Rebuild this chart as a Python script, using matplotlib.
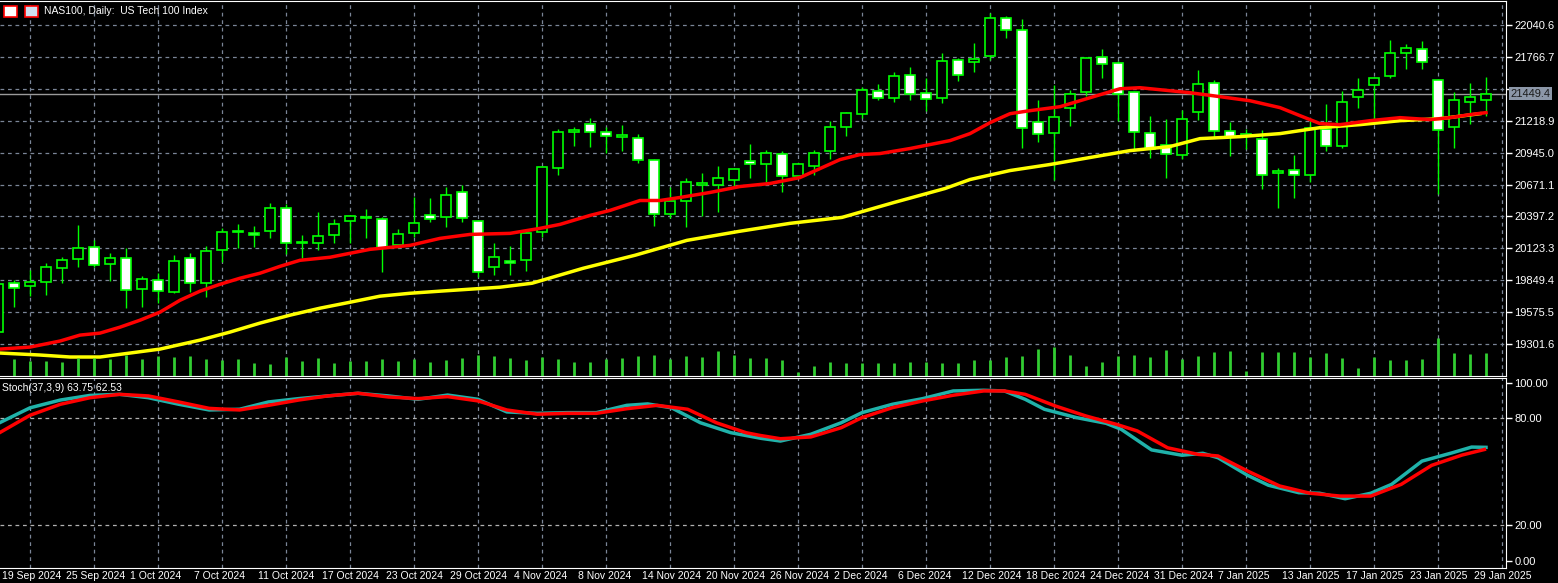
import matplotlib
matplotlib.use("Agg")
import matplotlib.pyplot as plt
import matplotlib.transforms as mtransforms
from matplotlib.patches import Rectangle

plt.rcParams['font.family'] = ['Liberation Sans', 'DejaVu Sans']

# bar index -1 is the partly hidden candle at the left edge (18 Sep)
bar_idx = list(range(-1, 93))
opens = [19405, 19824, 19798, 19833, 19952, 20029, 20132, 19987, 20038, 19773, 19850,
         19747, 20038, 19824, 20106, 20261, 20252, 20269, 20466, 20166, 20166, 20235,
         20355, 20380, 20372, 20149, 20252, 20406, 20389, 20611, 20355, 19961, 20012,
         20021, 20261, 20817, 21125, 21194, 21125, 21082, 21074, 20885, 20415, 20534,
         20671, 20663, 20714, 20877, 20843, 20937, 20748, 20834, 20962, 21168, 21279,
         21476, 21416, 21613, 21459, 21416, 21741, 21724, 21776, 22101, 21998, 21211,
         21117, 21331, 21467, 21767, 21716, 21467, 21117, 21014, 20928, 21296, 21545,
         21134, 21091, 21065, 20774, 20800, 20757, 21151, 21005, 21425, 21527, 21604,
         21801, 21836, 21570, 21168, 21382, 21399]
highs = [19850, 19850, 19935, 19995, 20047, 20320, 20192, 20081, 20124, 19884, 19910,
         20064, 20081, 20141, 20295, 20329, 20312, 20509, 20500, 20235, 20432, 20372,
         20406, 20457, 20389, 20286, 20560, 20552, 20646, 20663, 20363, 20166, 20141,
         20278, 20834, 21151, 21168, 21245, 21168, 21185, 21108, 20894, 20646, 20723,
         20774, 20834, 20815, 21022, 20971, 20962, 20860, 20971, 21219, 21295, 21510,
         21536, 21639, 21681, 21587, 21801, 21759, 21887, 22144, 22118, 22092, 21399,
         21527, 21485, 21765, 21836, 21730, 21476, 21262, 21236, 21313, 21656, 21570,
         21211, 21151, 21142, 20817, 20928, 21219, 21365, 21476, 21587, 21592, 21913,
         21878, 21904, 21575, 21467, 21545, 21596]
lows = [19370, 19619, 19713, 19721, 19824, 19961, 19961, 19841, 19610, 19619, 19653,
        19738, 19747, 19704, 20004, 20124, 20132, 20209, 20072, 20038, 20106, 20166,
        20166, 20209, 19918, 20124, 20218, 20346, 20303, 20346, 19875, 19892, 19892,
        19927, 20218, 20757, 21005, 20997, 20945, 20962, 20860, 20312, 20380, 20303,
        20397, 20432, 20646, 20723, 20689, 20611, 20731, 20757, 20894, 21091, 21245,
        21399, 21382, 21399, 21305, 21373, 21562, 21639, 21741, 21930, 20988, 21039,
        20706, 21176, 21433, 21587, 21219, 20962, 20903, 20723, 20894, 21228, 21074,
        20920, 20980, 20637, 20466, 20552, 20689, 20962, 20988, 21331, 21219, 21587,
        21664, 21664, 20594, 20988, 21194, 21262]
closes = [19815, 19781, 19833, 19961, 20021, 20124, 19978, 20038, 19764, 19858, 19755,
          20012, 19824, 20098, 20261, 20269, 20235, 20466, 20166, 20170, 20226, 20329,
          20397, 20383, 20124, 20243, 20338, 20372, 20577, 20380, 19918, 20047, 19995,
          20252, 20825, 21125, 21134, 21125, 21091, 21085, 20885, 20415, 20534, 20689,
          20675, 20723, 20808, 20843, 20945, 20748, 20843, 20945, 21168, 21288, 21485,
          21416, 21604, 21450, 21408, 21733, 21613, 21750, 22101, 21998, 21159, 21108,
          21253, 21450, 21759, 21707, 21450, 21125, 20980, 20937, 21236, 21536, 21134,
          21082, 21095, 20757, 20778, 20757, 21159, 21005, 21382, 21485, 21587, 21801,
          21844, 21724, 21142, 21399, 21425, 21449.4]
volumes = [18, 17, 15, 15, 14, 18, 18, 17, 21, 17, 20, 19, 20, 17, 16, 17, 13, 12, 19, 15,
           18, 13, 15, 15, 17, 15, 17, 14, 16, 18, 21, 20, 18,
           16, 19, 17, 14, 14, 17, 18, 20, 21, 17, 20, 19, 25, 21, 18, 18, 16, 4, 10, 14,
           13, 13, 13, 13, 14, 14, 13, 13, 16, 16,
           19, 20, 27, 29, 21, 10, 14, 20, 21, 19, 26, 17, 20, 24, 25, 5, 24, 24, 24, 19,
           23, 18, 8, 19, 16, 16, 17, 38, 23, 22, 23]

# moving averages (bar position, price)
ma_fast_t = [-0.875, 1, 2.875, 4.125, 5.375, 6.625, 7.875, 9.125, 10.375, 11.625, 12.875,
             14.125, 15.375, 16.625, 17.875, 19.75, 22.25, 24.75, 26.625, 28.5, 31, 32.875,
             34.125, 36, 37.25, 39.125, 40.375, 41.625, 43.5, 45.375, 47.25, 49.125, 50.375,
             51.625, 52.875, 54.125, 56, 58.5, 59.75, 61, 62.25, 63.5, 65.375, 67.25, 69.125,
             70.375, 72.25, 73.5, 75.375, 77.25, 79.125, 80.375, 81.625, 82.875, 84.75,
             86.625, 88.5, 89.75, 91, 92]
ma_fast = [19259, 19276, 19328, 19379, 19396, 19447, 19507, 19576, 19678, 19756, 19815,
           19867, 19910, 19969, 20021, 20047, 20115, 20149, 20209, 20243, 20252, 20295,
           20329, 20406, 20449, 20534, 20534, 20560, 20603, 20654, 20680, 20731, 20808,
           20885, 20928, 20937, 20980, 21048, 21108, 21202, 21279, 21305, 21339, 21416,
           21493, 21502, 21476, 21459, 21425, 21390, 21331, 21262, 21194, 21185, 21219,
           21245, 21228, 21245, 21271, 21288]
ma_slow_t = [-0.875, 1.625, 3.5, 5.375, 7.25, 9.125, 11.625, 13.5, 15.375, 17.25, 19.125,
             21, 22.875, 24.75, 26.625, 28.5, 30.375, 32.375, 35.56, 38.81, 42.06, 45.31,
             48.5, 51.75, 55, 58.19, 59.75, 62.25, 64.75, 67.25, 69.75, 72.25, 74.125,
             76.625, 79.125, 81.625, 84.125, 86.625, 89.125, 91.625]
ma_slow = [19225, 19208, 19191, 19191, 19225, 19259, 19336, 19405, 19482, 19550, 19610,
           19661, 19713, 19738, 19756, 19773, 19790, 19824, 19952, 20064, 20192, 20269,
           20338, 20389, 20517, 20637, 20714, 20791, 20843, 20903, 20962, 20997, 21065,
           21082, 21108, 21159, 21185, 21219, 21236, 21279]

# stochastic (37,3,9)
stoch_main_t = [-0.9, 1, 2.9, 4.75, 6.6, 8.4, 10.3, 12.2, 14.1, 15.9, 17.8, 19.6, 21.5, 23.4,
                25.25, 27.1, 29, 30.8, 32.7, 34.6, 36.4, 38.3, 39.6, 41.1, 42.9, 44.8, 46.7,
                47.9, 49.8, 51.7, 53, 54.9, 56.8, 58.7, 60.6, 61.9, 63.2, 64.4, 66.4, 68.25,
                69.2, 71.1, 73, 74.3, 75.25, 77.1, 78.4, 80.3, 81.6, 83.2, 84.8, 86.1, 88,
                89.9, 91.1, 92]
stoch_main = [77.6, 86, 90.4, 93, 93.6, 91.7, 88, 84.8, 85.2, 89.3, 91.2, 92.7, 94.2, 92.7,
              90.8, 93.2, 90.8, 83.7, 82.9, 83.3, 83.3, 87.4, 88.2, 86, 77.6, 72, 68.8,
              67.3, 71.1, 77.6, 83.3, 88, 91.2, 95.5, 95.9, 95.5, 90.8, 85.2, 80.5, 77.3,
              73.9, 62.3, 59.3, 60.4, 57.9, 48, 42.4, 38.2, 37.9, 34.8, 37.9, 42.9, 56,
              60.7, 63.9, 63.75]
stoch_sig_t = [-0.9, 1, 2.9, 4.75, 6.6, 8.4, 10.3, 12.2, 14.1, 15.9, 17.8, 19.6, 21.5, 23.4,
               25.25, 27.1, 29, 30.8, 32.7, 34.6, 36.4, 38.3, 40.2, 42.1, 43.9, 45.75,
               46.6, 47.9, 49.8, 51.7, 53, 54.9, 56.8, 58.7, 60.6, 61.9, 63.2, 65.1, 67,
               68.9, 70.2, 72.1, 74, 75.25, 77.1, 79.1, 81, 82.9, 84.8, 86.7, 88.6, 90.5, 91.9]
stoch_sig = [72, 81.8, 88, 91.7, 93.6, 92.7, 89.3, 85.7, 84.8, 87.4, 90.4, 92.7, 94.2, 92.1,
             91.2, 92.3, 89.9, 84.8, 82.4, 82.9, 82.9, 85.5, 87.4, 85.2, 77.6, 72,
             70.5, 68.6, 69.6, 74.8, 80.5, 86.1, 89.9, 93.1, 95.5, 95.5, 93.6, 87, 81.4,
             76.7, 73, 63.5, 59.8, 58.9, 50.4, 42, 37.9, 36.3, 36.3, 42.9, 53.6, 59.4, 62.53]

price_ticks = [19301.6, 19575.5, 19849.4, 20123.3, 20397.2, 20671.1, 20945.0, 21218.9,
               21492.8, 21766.7, 22040.6]
stoch_ticks = [0.0, 20.0, 80.0, 100.0]
date_labels = ["19 Sep 2024", "25 Sep 2024", "1 Oct 2024", "7 Oct 2024", "11 Oct 2024",
               "17 Oct 2024", "23 Oct 2024", "29 Oct 2024", "4 Nov 2024", "8 Nov 2024",
               "14 Nov 2024", "20 Nov 2024", "26 Nov 2024", "2 Dec 2024", "6 Dec 2024",
               "12 Dec 2024", "18 Dec 2024", "24 Dec 2024", "31 Dec 2024", "7 Jan 2025",
               "13 Jan 2025", "17 Jan 2025", "23 Jan 2025", "29 Jan 2025"]

GREEN = "#00ff00"
GRID = "#7a8597"
W, H = 1558, 583
fig = plt.figure(figsize=(W / 100, H / 100), dpi=100, facecolor="black")
ax = fig.add_axes([0, 1 - 376 / H, 1506 / W, 375 / H], facecolor="black")
ax2 = fig.add_axes([0, 1 - 568 / H, 1506 / W, 190 / H], facecolor="black")

xmin, xmax = -0.875, 93.25
grid_x = [1 + 4 * i for i in range(24)]

# volume on its own hidden scale
axv = ax.twinx()
axv.set_ylim(0, 375)
axv.vlines(bar_idx, 0, volumes, color="#32cd32", lw=2)
axv.axis("off")

for t, o, h, l, c in zip(bar_idx, opens, highs, lows, closes):
    ax.vlines(t, l, h, color=GREEN, lw=1, zorder=3)
    lo, hi = min(o, c), max(o, c)
    if hi - lo < 10:
        hi = lo + 10
    face = "white" if c < o else "black"
    ax.add_patch(Rectangle((t - 0.32, lo), 0.64, hi - lo, facecolor=face,
                           edgecolor=GREEN, lw=1.2, zorder=4))

ax.plot(ma_slow_t, ma_slow, color="yellow", lw=2.5, zorder=5)
ax.plot(ma_fast_t, ma_fast, color="red", lw=2.5, zorder=6)
ax.axhline(closes[-1], color="#9a9a9a", lw=1, zorder=2)

ax.set_xlim(xmin, xmax)
ax.set_ylim(19028, 22246)
for gx in grid_x:
    ax.axvline(gx, color=GRID, lw=0.9, ls=(0, (3, 3)), zorder=1)
    ax2.axvline(gx, color=GRID, lw=0.9, ls=(0, (3, 3)), zorder=1)
for gy in price_ticks:
    ax.axhline(gy, color=GRID, lw=0.9, ls=(0, (3, 3)), zorder=1)
for gy in [20.0, 80.0]:
    ax2.axhline(gy, color="#b0b0b0", lw=0.9, ls=(0, (3, 3)), zorder=1)

ax2.plot(stoch_main_t, stoch_main, color="#20b2aa", lw=2.5, zorder=3)
ax2.plot(stoch_sig_t, stoch_sig, color="red", lw=2.5, zorder=4)
ax2.set_xlim(xmin, xmax)
ax2.set_ylim(-4.2, 102.8)

for a, ticks, fmt in [(ax, price_ticks, "{:.1f}"), (ax2, stoch_ticks, "{:.2f}")]:
    a.set_xticks([])
    a.yaxis.tick_right()
    a.set_yticks(ticks)
    a.set_yticklabels([fmt.format(v) for v in ticks])
    a.tick_params(axis="y", colors="white", labelsize=8, length=4, width=1, pad=2)
    for s in a.spines.values():
        s.set_color("white")
    a.spines["left"].set_visible(False)
ax.set_yticklabels(["" if abs(v - 21492.8) < 1 else "{:.1f}".format(v) for v in price_ticks])

# current price tag
ax.annotate("{:.1f}".format(closes[-1]), xy=(1.0, closes[-1]), xycoords=("axes fraction", "data"),
            xytext=(3, 0), textcoords="offset points", va="center", ha="left",
            fontsize=8, color="#1a1a1a", annotation_clip=False,
            bbox=dict(boxstyle="square,pad=0.15", fc="#8c97a8", ec="none"))

trans = mtransforms.blended_transform_factory(ax2.transData, ax2.transAxes)
for i, lab in enumerate(date_labels):
    ax2.text(4 * i - 0.75, -0.04, lab, transform=trans, color="white", fontsize=7.5,
             ha="left", va="center", clip_on=False)

fig.text(44 / W, 1 - 11 / H, "NAS100, Daily:  US Tech 100 Index", color="white",
         fontsize=7.5, va="center", ha="left")
fig.patches.append(Rectangle((4 / W, 1 - 17 / H), 13 / W, 11 / H, transform=fig.transFigure,
                             fc="white", ec="red", lw=1.2))
fig.patches.append(Rectangle((25 / W, 1 - 17 / H), 13 / W, 11 / H, transform=fig.transFigure,
                             fc="#cfe0f0", ec="red", lw=1.2))
ax2.text(2 / 1506, 1 - 10 / 190, "Stoch(37,3,9) 63.75 62.53", transform=ax2.transAxes,
         color="white", fontsize=7.5, va="center", ha="left")

fig.savefig("out.png", dpi=100, facecolor="black")
